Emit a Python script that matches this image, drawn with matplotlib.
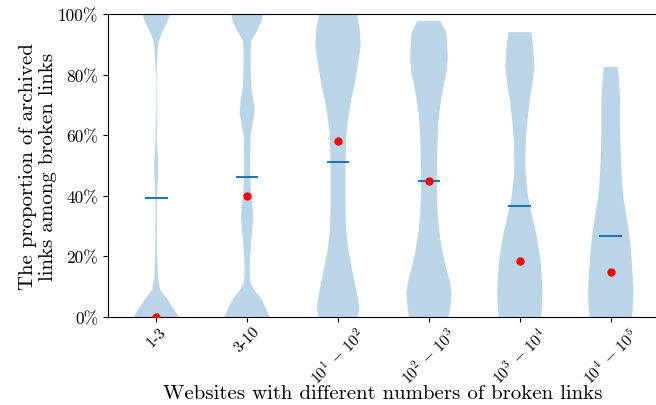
import numpy as np
import matplotlib
matplotlib.use('Agg')
from matplotlib import pyplot as plt

plt.rcParams['font.family'] = 'serif'
plt.rcParams['font.serif'] = ['cmr10']
plt.rcParams['mathtext.fontset'] = 'cm'
plt.rcParams['axes.formatter.use_mathtext'] = True

groups = ['1-3', '3-10', r'$10^1\,-\,10^2$', r'$10^2\,-\,10^3$', r'$10^3\,-\,10^4$', r'$10^4\,-\,10^5$']
means = [39.4, 46.2, 51.2, 44.9, 36.8, 26.6]
medians = [0.0, 40.0, 58.0, 45.0, 18.6, 15.0]

# violin outlines: percent levels and relative width
v1_y = [0, 2.6, 6, 9, 12.5, 17, 25, 35, 42, 46, 50, 54, 58, 65, 72, 78, 83, 86, 89, 91, 94, 97.4, 100]
v1_w = [45, 35, 22, 8, 4, 2.5, 1.5, 1.2, 2, 3.5, 4, 3, 1.5, 1, 0.8, 0.6, 1.5, 2.5, 3.5, 5, 12, 22, 28]
v2_y = [0, 2.6, 6, 9, 11.5, 15, 20, 25, 30, 33, 37, 40, 43, 48, 52, 57, 60, 64, 67.6, 71, 75, 78, 83, 88, 91, 94, 97, 100]
v2_w = [45, 38, 28, 14, 6, 5, 6, 8, 11, 12, 10.5, 8, 7, 6, 6, 6.5, 7, 11, 15, 13, 9, 8, 7, 7, 8, 18, 27, 32]
v3_y = [0, 3.6, 9, 13, 17, 22, 28, 33, 39, 45, 50, 55, 61, 66, 72, 77, 83, 89.5, 95, 100]
v3_w = [40, 43, 37, 32, 27, 21, 17, 15.5, 15, 15, 15, 16, 17, 21, 27, 34, 40, 46, 44, 38]
v4_y = [0, 2.6, 8, 12, 15, 18, 22, 27, 33, 39, 44.5, 50, 55, 60, 66, 72, 77.5, 81, 85, 90, 94, 97.7]
v4_w = [40, 43, 46, 42, 37, 32, 27, 22, 18, 16.5, 16, 16.5, 17, 18, 20, 25, 31, 36, 38, 37, 35, 23]
v5_y = [0, 4, 8, 12, 17, 22, 28, 32, 36.6, 40, 44.5, 48, 52, 56, 61, 66, 72, 77, 83, 88, 94]
v5_w = [42, 44, 45, 44, 42, 38, 32, 26, 20, 16, 13, 11.5, 11, 11.5, 13, 16, 20, 25, 29, 27, 23]
v6_y = [0, 4, 8, 12, 17, 22, 28, 33, 39, 44, 50, 55, 61, 67, 72, 77, 82.5]
v6_w = [43, 45, 46, 45, 43, 41, 37, 32, 26, 23, 21, 20, 19, 19, 19, 17, 14]

outlines = [(v1_y, v1_w), (v2_y, v2_w), (v3_y, v3_w), (v4_y, v4_w), (v5_y, v5_w), (v6_y, v6_w)]

stats = []
for (ys, ws), m, md in zip(outlines, means, medians):
    stats.append({'coords': np.array(ys, dtype=float), 'vals': np.array(ws, dtype=float),
                  'mean': m, 'median': md, 'min': ys[0], 'max': ys[-1]})

positions = np.arange(1, len(groups) + 1)

fig = plt.figure(figsize=(6.56, 4.06), dpi=100)
ax = fig.add_axes([0.1646, 0.2167, 0.8385, 0.7463])
ax.violin(stats, positions=positions, widths=0.5, showmeans=True, showextrema=False)
ax.plot(positions, medians, 'o', color='red', markersize=5, zorder=3)

ax.set_xlim(0.47, 6.52)
ax.set_ylim(0, 100)
ax.set_yticks([0, 20, 40, 60, 80, 100])
ax.set_yticklabels(['0%', '20%', '40%', '60%', '80%', '100%'], fontsize=12.5)
ax.set_xticks(positions)
ax.set_xticklabels(groups, rotation=45, fontsize=11.5)
ax.tick_params(axis='x', pad=1.5)
ax.set_xlabel('Websites with different numbers of broken links', fontsize=15)
ax.set_ylabel('The proportion of archived\nlinks among broken links', fontsize=15, linespacing=1.1)
ax.xaxis.set_label_coords(0.5, -0.22)
ax.yaxis.set_label_coords(-0.093, 0.5)

plt.savefig('out.png', dpi=100)
